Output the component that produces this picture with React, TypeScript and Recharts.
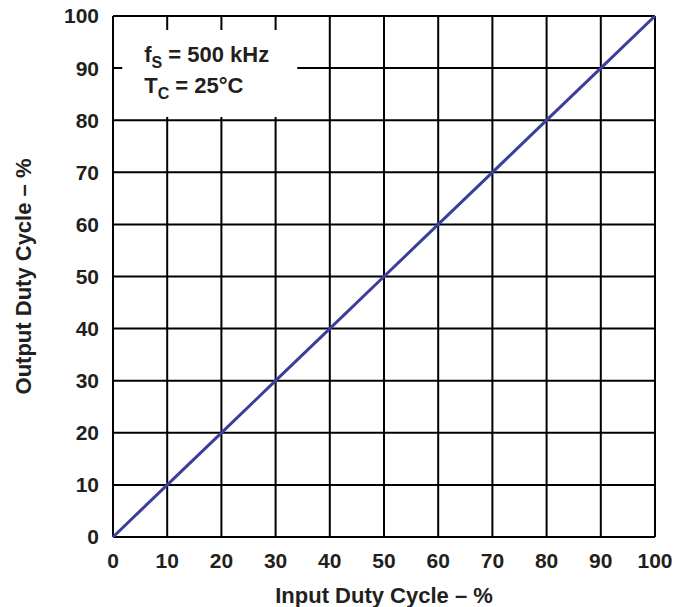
import React from "react";
import { LineChart, Line, XAxis, YAxis, CartesianGrid, ReferenceArea } from "recharts";

const inputDuty = [0, 10, 20, 30, 40, 50, 60, 70, 80, 90, 100];
const outputDuty = [0, 10, 20, 30, 40, 50, 60, 70, 80, 90, 100];
const xTicks = [0, 10, 20, 30, 40, 50, 60, 70, 80, 90, 100];
const yTicks = [0, 10, 20, 30, 40, 50, 60, 70, 80, 90, 100];
const noteLines = [
  { main: "f", sub: "S", rest: " = 500 kHz" },
  { main: "T", sub: "C", rest: " = 25°C" },
];
const noteBox = { x1: 1.7, x2: 34, y1: 80.6, y2: 97.3 };

const data = inputDuty.map((x, i) => ({ x, y: outputDuty[i] }));

const FONT = "'Liberation Sans', Arial, sans-serif";
const TXT = "#231f20";
const FS = 21;
const FL = 22;

const NoteLabel = (props: any) => {
  const vb = props.viewBox || {};
  const x0 = (vb.x ?? 0) + 22;
  const y0 = (vb.y ?? 0) + 32;
  return (
    <g>
      {noteLines.map((l, i) => (
        <text key={i} x={x0} y={y0 + i * 31} fontFamily={FONT} fontWeight="bold" fontSize={FL} fill={TXT}>
          <tspan>{l.main}</tspan>
          <tspan fontSize={16} dy={6}>{l.sub}</tspan>
          <tspan dy={-6}>{l.rest}</tspan>
        </text>
      ))}
    </g>
  );
};

export default function App() {
  return (
    <div style={{ position: "absolute", left: 0, top: 0, width: 676, height: 607, background: "#fff" }}>
      <LineChart width={676} height={607} data={data} margin={{ top: 16, right: 21, bottom: 0, left: 0 }}>
        <CartesianGrid stroke="#000" strokeWidth={2} horizontalValues={yTicks} verticalValues={xTicks} />
        <XAxis
          dataKey="x"
          type="number"
          domain={[0, 100]}
          ticks={xTicks}
          axisLine={false}
          tickLine={false}
          tickMargin={10}
          tick={{ fontFamily: FONT, fontWeight: "bold", fontSize: FS, fill: TXT }}
          height={70}
          label={{
            value: "Input Duty Cycle – %",
            position: "insideBottom",
            offset: 4,
            style: { fontFamily: FONT, fontWeight: "bold", fontSize: FL, fill: TXT },
          }}
        />
        <YAxis
          dataKey="y"
          type="number"
          domain={[0, 100]}
          ticks={yTicks}
          axisLine={false}
          tickLine={false}
          tickMargin={8}
          width={113}
          tick={{ fontFamily: FONT, fontWeight: "bold", fontSize: FS, fill: TXT }}
          label={{
            value: "Output Duty Cycle – %",
            angle: -90,
            position: "insideLeft",
            offset: 23,
            style: { fontFamily: FONT, fontWeight: "bold", fontSize: FL, fill: TXT, textAnchor: "middle" },
          }}
        />
        <ReferenceArea
          x1={noteBox.x1}
          x2={noteBox.x2}
          y1={noteBox.y1}
          y2={noteBox.y2}
          fill="#fff"
          fillOpacity={1}
          stroke="none"
          ifOverflow="visible"
          label={<NoteLabel />}
        />
        <Line
          type="linear"
          dataKey="y"
          stroke="#3a3f9c"
          strokeWidth={3}
          dot={false}
          isAnimationActive={false}
        />
      </LineChart>
    </div>
  );
}
